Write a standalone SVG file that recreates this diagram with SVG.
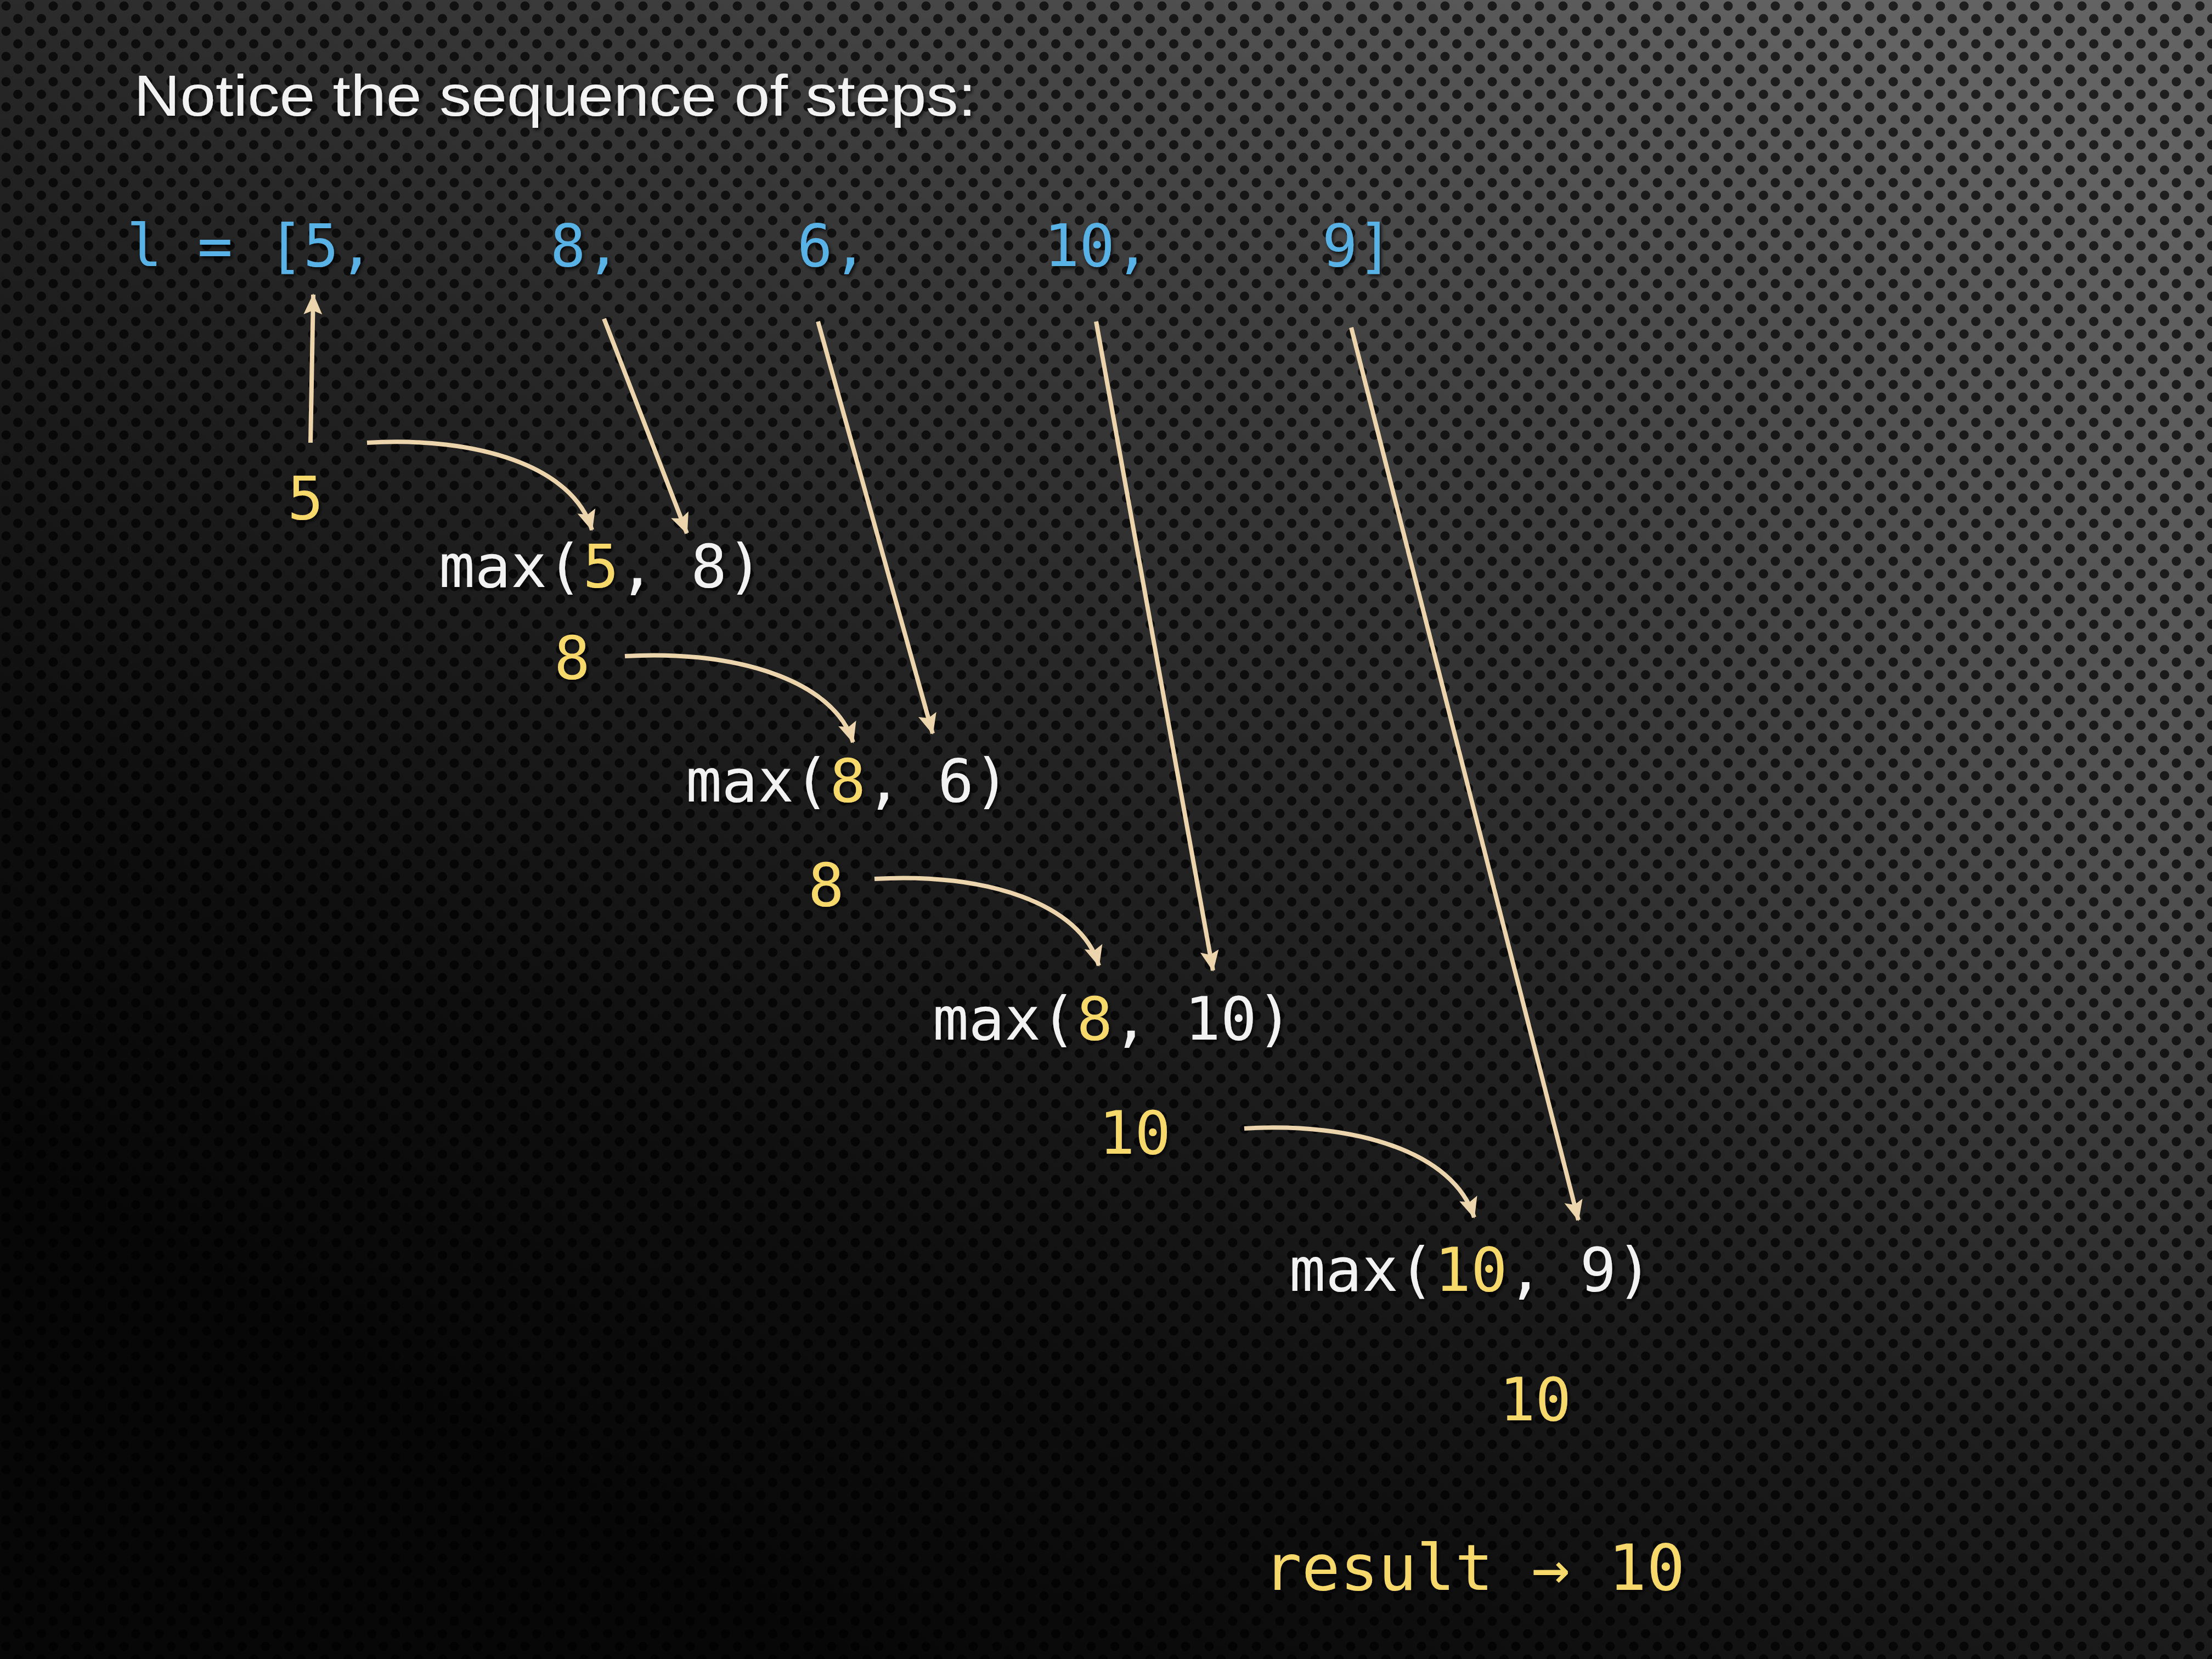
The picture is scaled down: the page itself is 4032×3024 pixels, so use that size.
<svg xmlns="http://www.w3.org/2000/svg" width="4032" height="3024" viewBox="0 0 4032 3024">
  <defs>
    <linearGradient id="bg" gradientUnits="userSpaceOnUse" x1="3300" y1="0" x2="1500" y2="3024">
      <stop offset="0" stop-color="#636363"/>
      <stop offset="0.3" stop-color="#3e3e3e"/>
      <stop offset="0.55" stop-color="#222222"/>
      <stop offset="0.8" stop-color="#0f0f0f"/>
      <stop offset="1" stop-color="#070707"/>
    </linearGradient>
    <radialGradient id="glow" gradientUnits="userSpaceOnUse" cx="3900" cy="1550" r="1100">
      <stop offset="0" stop-color="#ffffff" stop-opacity="0.10"/>
      <stop offset="1" stop-color="#ffffff" stop-opacity="0"/>
    </radialGradient>
    <linearGradient id="shade" x1="0" y1="0" x2="1" y2="0">
      <stop offset="0" stop-color="#000" stop-opacity="0.25"/>
      <stop offset="0.5" stop-color="#000" stop-opacity="0"/>
    </linearGradient>
    <pattern id="dots" patternUnits="userSpaceOnUse" width="43" height="46">
      <circle cx="11" cy="11" r="8.5" fill="#000" fill-opacity="0.7"/>
      <circle cx="32.5" cy="34" r="8.5" fill="#000" fill-opacity="0.7"/>
    </pattern>
    <marker id="head" markerUnits="userSpaceOnUse" viewBox="-42 -22 46 44" markerWidth="46" markerHeight="44" refX="0" refY="0" orient="auto">
      <path d="M2,0 L-36,-17 L-29,0 L-36,17 Z" fill="#ecd4ac"/>
    </marker>
    <filter id="shadow" x="-10%" y="-20%" width="120%" height="140%">
      <feDropShadow dx="3" dy="4" stdDeviation="3" flood-color="#000" flood-opacity="0.8"/>
    </filter>
    <style>
      .title { font-family: "Liberation Sans", "Noto Sans", sans-serif; font-size: 106px; fill: #f2f2f2; }
      .code { font-family: "DejaVu Sans Mono", "Liberation Mono", monospace; font-size: 109px; }
      .blue { fill: #58b2e6; }
      .white { fill: #f2f2f2; }
      .yellow { fill: #f6d96a; }
      .arrow { fill: none; stroke: #ecd4ac; stroke-width: 8; marker-end: url(#head); }
    </style>
  </defs>

  <rect x="0" y="0" width="4032" height="3024" fill="url(#bg)"/>
  <rect x="0" y="0" width="4032" height="3024" fill="url(#glow)"/>
  <rect x="0" y="0" width="4032" height="3024" fill="url(#dots)"/>

  <g filter="url(#shadow)">
    <g id="title">
      <text class="title" x="244" y="211" textLength="1535" lengthAdjust="spacingAndGlyphs">Notice the sequence of steps:</text>
    </g>

    <g id="list">
      <text class="code blue" x="231" y="485" style="font-size:107px">l = [5,</text>
      <text class="code blue" x="1003" y="485" style="font-size:107px">8,</text>
      <text class="code blue" x="1453" y="485" style="font-size:107px">6,</text>
      <text class="code blue" x="1903" y="485" style="font-size:107px">10,</text>
      <text class="code blue" x="2410" y="485" style="font-size:107px">9]</text>
    </g>

    <g id="init-5"><text class="code yellow" x="524" y="946">5</text></g>
    <g id="max-5-8"><text class="code white" x="800" y="1070">max(<tspan class="yellow">5</tspan>, 8)</text></g>
    <g id="res-8a"><text class="code yellow" x="1010" y="1237">8</text></g>
    <g id="max-8-6"><text class="code white" x="1250" y="1461">max(<tspan class="yellow">8</tspan>, 6)</text></g>
    <g id="res-8b"><text class="code yellow" x="1473" y="1651">8</text></g>
    <g id="max-8-10"><text class="code white" x="1700" y="1895">max(<tspan class="yellow">8</tspan>, 10)</text></g>
    <g id="res-10a"><text class="code yellow" x="2003" y="2103">10</text></g>
    <g id="max-10-9"><text class="code white" x="2350" y="2353" style="font-size:110px">max(<tspan class="yellow">10</tspan>, 9)</text></g>
    <g id="res-10b"><text class="code yellow" x="2733" y="2589">10</text></g>
    <g id="result"><text class="code yellow" x="2303" y="2898" style="font-size:116px">result → 10</text></g>
  </g>

  <g id="connectors">
    <path class="arrow" d="M566,807 L571,537"/>
    <path class="arrow" d="M669,807 C870,795 1045,850 1079,966"/>
    <path class="arrow" d="M1101,581 L1252,972"/>
    <path class="arrow" d="M1139,1196 C1340,1184 1520,1240 1555,1353"/>
    <path class="arrow" d="M1491,586 L1700,1337"/>
    <path class="arrow" d="M1594,1602 C1795,1590 1970,1646 2003,1760"/>
    <path class="arrow" d="M1998,586 L2211,1769"/>
    <path class="arrow" d="M2268,2057 C2470,2045 2650,2100 2687,2219"/>
    <path class="arrow" d="M2463,597 L2877,2224"/>
  </g>
</svg>
